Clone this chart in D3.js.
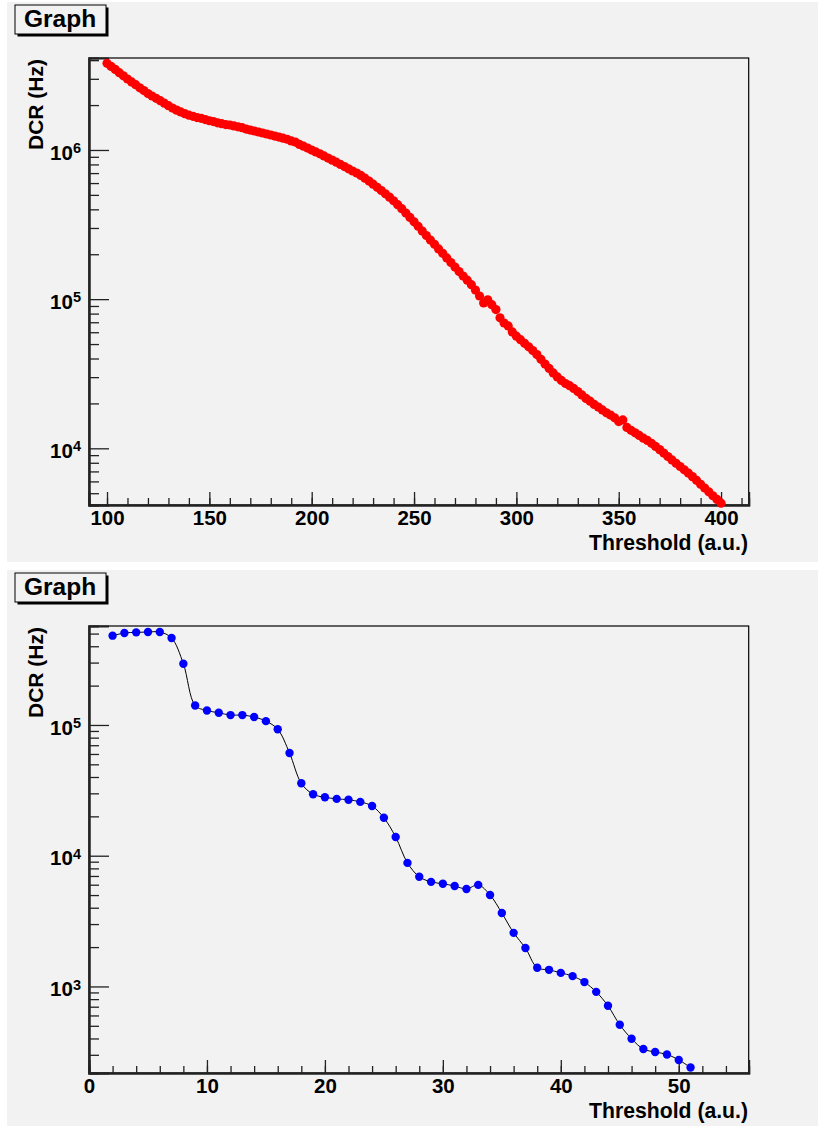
<!DOCTYPE html>
<html>
<head>
<meta charset="utf-8">
<script src="https://cdn.jsdelivr.net/npm/d3@7/dist/d3.min.js"></script>
<style>
  html, body { margin: 0; padding: 0; background: #ffffff; }
  svg { display: block; }
  text { font-family: "Liberation Sans", Arial, Helvetica, sans-serif; font-weight: bold; fill: #000; }
</style>
</head>
<body>
<svg id="chart" width="818" height="1126"></svg>
<script>
// ---- Scan 1: dark count rate vs threshold (fine scan, step 2) ----
const thresholdA = d3.range(100, 401, 2);
const dcrA = [
  3.81e6, 3.63e6, 3.47e6, 3.30e6, 3.14e6, 2.99e6, 2.86e6, 2.74e6, 2.61e6, 2.50e6,
  2.39e6, 2.30e6, 2.22e6, 2.14e6, 2.06e6, 1.98e6, 1.91e6, 1.85e6, 1.80e6, 1.75e6,
  1.71e6, 1.68e6, 1.65e6, 1.63e6, 1.60e6, 1.57e6, 1.55e6, 1.52e6, 1.50e6, 1.48e6,
  1.47e6, 1.45e6, 1.43e6, 1.41e6, 1.38e6, 1.36e6, 1.34e6, 1.32e6, 1.30e6, 1.28e6,
  1.26e6, 1.24e6, 1.22e6, 1.20e6, 1.18e6, 1.15e6, 1.13e6, 1.09e6, 1.06e6, 1.03e6,
  9.98e5, 9.70e5, 9.42e5, 9.12e5, 8.83e5, 8.55e5, 8.28e5, 8.00e5, 7.74e5, 7.48e5,
  7.23e5, 7.01e5, 6.75e5, 6.47e5, 6.19e5, 5.90e5, 5.62e5, 5.35e5, 5.08e5, 4.83e5,
  4.56e5, 4.30e5, 4.04e5, 3.78e5, 3.53e5, 3.30e5, 3.08e5, 2.86e5, 2.67e5, 2.49e5,
  2.33e5, 2.17e5, 2.03e5, 1.89e5, 1.76e5, 1.64e5, 1.53e5, 1.43e5, 1.34e5, 1.25e5,
  1.15e5, 1.05e5, 9.44e4, 9.89e4, 9.18e4, 8.51e4, 7.50e4, 6.92e4, 6.61e4, 6.03e4,
  5.65e4, 5.35e4, 5.06e4, 4.79e4, 4.52e4, 4.25e4, 3.95e4, 3.67e4, 3.43e4, 3.20e4,
  3.01e4, 2.85e4, 2.72e4, 2.63e4, 2.52e4, 2.40e4, 2.28e4, 2.16e4, 2.07e4, 1.97e4,
  1.89e4, 1.81e4, 1.73e4, 1.67e4, 1.60e4, 1.51e4, 1.55e4, 1.38e4, 1.32e4, 1.27e4,
  1.22e4, 1.17e4, 1.13e4, 1.08e4, 1.03e4, 9.80e3, 9.29e3, 8.81e3, 8.36e3, 7.94e3,
  7.55e3, 7.18e3, 6.82e3, 6.46e3, 6.10e3, 5.74e3, 5.42e3, 5.11e3, 4.81e3, 4.54e3,
  4.29e3
];

// ---- Scan 2: dark count rate vs threshold (coarse scan, step 1) ----
const thresholdB = d3.range(2, 52, 1);
const dcrB = [
  4.82e5, 5.05e5, 5.11e5, 5.14e5, 5.14e5, 4.63e5, 2.94e5, 1.41e5, 1.29e5, 1.24e5,
  1.19e5, 1.19e5, 1.15e5, 1.07e5, 9.27e4, 6.11e4, 3.58e4, 2.95e4, 2.80e4, 2.72e4,
  2.68e4, 2.58e4, 2.40e4, 1.95e4, 1.39e4, 8.81e3, 6.90e3, 6.31e3, 6.10e3, 5.87e3,
  5.57e3, 5.98e3, 5.01e3, 3.65e3, 2.57e3, 1.97e3, 1.39e3, 1.34e3, 1.27e3, 1.20e3,
  1.08e3, 909, 711, 509, 398, 332, 315, 302, 274, 240
];

// Axis ranges and tick values
const xDomainA = [91.2, 413.5];
const yDomainA = [Math.pow(10, 3.62), Math.pow(10, 6.6166)];
const xMajorA = [100, 150, 200, 250, 300, 350, 400];
const xMinorA = d3.range(100, 414, 10);
const yMajorA = [1e4, 1e5, 1e6];

const xDomainB = [0, 55.93];
const yDomainB = [Math.pow(10, 2.338), Math.pow(10, 5.757)];
const xMajorB = [0, 10, 20, 30, 40, 50];
const xMinorB = d3.range(0, 56, 2);
const yMajorB = [1e3, 1e4, 1e5];

const panelTitle = "Graph";
const xTitle = "Threshold (a.u.)";
const yTitle = "DCR (Hz)";

const svg = d3.select("#chart");
const BG = "#f2f2f2";

// minor log ticks (2..9 x 10^n) inside a domain
function logMinor(domain) {
  const out = [];
  const lo = Math.floor(Math.log10(domain[0])), hi = Math.ceil(Math.log10(domain[1]));
  for (let e = lo; e <= hi; e++) {
    for (let m = 2; m <= 9; m++) {
      const v = m * Math.pow(10, e);
      if (v >= domain[0] && v <= domain[1]) out.push(v);
    }
  }
  return out;
}

function drawPanel(offsetY, cfg) {
  const g = svg.append("g").attr("transform", `translate(0,${offsetY})`);
  const left = 89, right = 748.7, top = 58, bottom = 505;

  // pad background
  g.append("rect").attr("x", 7).attr("y", 2).attr("width", 811).attr("height", 560).attr("fill", BG);

  const x = d3.scaleLinear().domain(cfg.xDomain).range([left, right]);
  const y = d3.scaleLog().domain(cfg.yDomain).range([bottom, top]);

  // frame
  g.append("rect").attr("x", left).attr("y", top)
    .attr("width", right - left).attr("height", bottom - top)
    .attr("fill", BG).attr("stroke", "#000").attr("stroke-width", 1.2);

  // x axis: minor then major ticks, pointing inward
  const xMinorAxis = d3.axisBottom(x).tickValues(cfg.xMinor).tickSize(-7).tickFormat("");
  const gxm = g.append("g").attr("transform", `translate(0,${bottom})`).call(xMinorAxis);
  const xMajorAxis = d3.axisBottom(x).tickValues(cfg.xMajor).tickSize(-13).tickPadding(5.5).tickFormat(d3.format("d"));
  const gx = g.append("g").attr("transform", `translate(0,${bottom})`).call(xMajorAxis);
  [gxm, gx].forEach(a => {
    a.select(".domain").attr("stroke", "#222").attr("stroke-width", 2);
    a.selectAll(".tick line").attr("stroke", "#222").attr("stroke-width", 1.3);
  });
  gx.selectAll(".tick text").attr("font-size", 20.5).attr("font-family", null).attr("fill", "#000");

  // y axis: minor then major ticks, pointing inward
  const yMinorAxis = d3.axisLeft(y).tickValues(logMinor(cfg.yDomain)).tickSize(-10).tickFormat("");
  const gym = g.append("g").attr("transform", `translate(${left},0)`).call(yMinorAxis);
  const yMajorAxis = d3.axisLeft(y).tickValues(cfg.yMajor).tickSize(-20).tickFormat("");
  const gy = g.append("g").attr("transform", `translate(${left},0)`).call(yMajorAxis);
  [gym, gy].forEach(a => {
    a.select(".domain").attr("stroke", "#222").attr("stroke-width", 2);
    a.selectAll(".tick line").attr("stroke", "#222").attr("stroke-width", 1.3);
  });

  // y tick labels as 10^n
  cfg.yMajor.forEach(v => {
    const t = g.append("text")
      .attr("x", 81).attr("y", y(v) + 9.6)
      .attr("text-anchor", "end").attr("font-size", 20.5);
    t.append("tspan").text("10");
    t.append("tspan").attr("font-size", 14.5).attr("dy", -6.5).text(String(Math.round(Math.log10(v))));
  });

  // axis titles
  g.append("text").attr("x", 748).attr("y", 549.5)
    .attr("text-anchor", "end").attr("font-size", 21.2).text(xTitle);
  g.append("text").attr("transform", "translate(43,59) rotate(-90)")
    .attr("text-anchor", "end").attr("font-size", 21).text(yTitle);

  // title box with shadow
  g.append("rect").attr("x", 17.5).attr("y", 7.5).attr("width", 91).attr("height", 29).attr("fill", "#000");
  g.append("rect").attr("x", 15).attr("y", 5).attr("width", 91).attr("height", 29)
    .attr("fill", BG).attr("stroke", "#000").attr("stroke-width", 1);
  g.append("text").attr("x", 24).attr("y", 27).attr("font-size", 24.5).text(panelTitle);

  const pts = cfg.xs.map((d, i) => [d, cfg.ys[i]]);

  if (cfg.line) {
    const line = d3.line().x(d => x(d[0])).y(d => y(d[1])).curve(d3.curveCatmullRom.alpha(0.5));
    g.append("path").datum(pts).attr("d", line)
      .attr("fill", "none").attr("stroke", "#000").attr("stroke-width", 1);
  }

  g.append("g").selectAll("circle").data(pts).join("circle")
    .attr("cx", d => x(d[0])).attr("cy", d => y(d[1]))
    .attr("r", cfg.r).attr("fill", cfg.color);
}

drawPanel(0, {
  xDomain: xDomainA, yDomain: yDomainA, xMajor: xMajorA, xMinor: xMinorA, yMajor: yMajorA,
  xs: thresholdA, ys: dcrA, color: "#ff0000", r: 4.6, line: false
});
drawPanel(568, {
  xDomain: xDomainB, yDomain: yDomainB, xMajor: xMajorB, xMinor: xMinorB, yMajor: yMajorB,
  xs: thresholdB, ys: dcrB, color: "#0000ff", r: 4.2, line: true
});
</script>
</body>
</html>
